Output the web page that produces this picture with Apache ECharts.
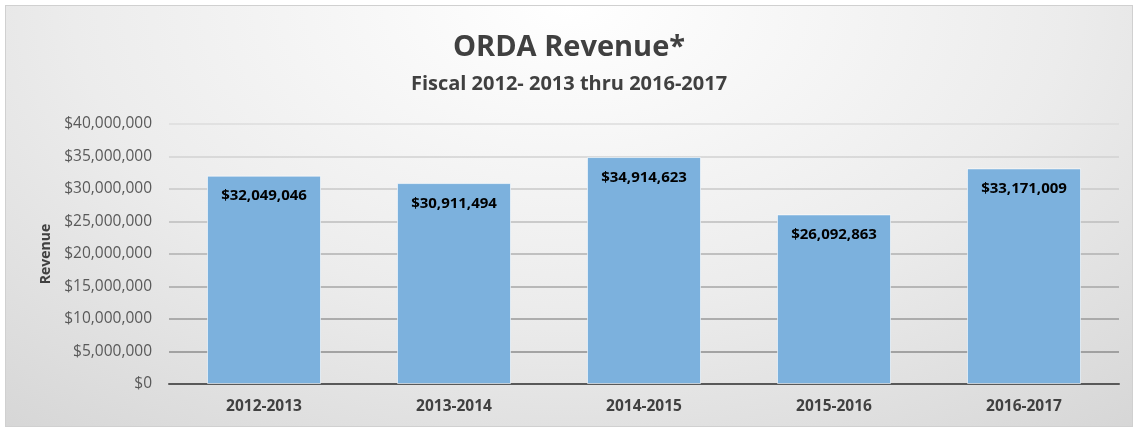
<!DOCTYPE html>
<html>
<head>
<meta charset="utf-8">
<script src="https://cdn.jsdelivr.net/npm/echarts@6/dist/echarts.min.js"></script>
<style>
  html, body { margin: 0; padding: 0; background: #fff; }
  #wrap {
    position: absolute; left: 5px; top: 5px;
    width: 1126px; height: 420px;
    border: 1px solid #d0d0d0;
    background: radial-gradient(ellipse 80% 130% at 50% 0%, #ffffff 0%, #ececec 55%, #d6d6d6 100%);
  }
  #chart { width: 1126px; height: 420px; }
</style>
</head>
<body>
<div id="wrap"><div id="chart"></div></div>
<script>
// 数据
const years = ['2012-2013', '2013-2014', '2014-2015', '2015-2016', '2016-2017'];
const revenue = [32049046, 30911494, 34914623, 26092863, 33171009];
const yTicks = [0, 5000000, 10000000, 15000000, 20000000, 25000000, 30000000, 35000000, 40000000];

const font = '"Open Sans", "Liberation Sans", sans-serif';
const money = v => '$' + v.toLocaleString('en-US');

const chart = echarts.init(document.getElementById('chart'));
const option = {
  backgroundColor: 'transparent',
  title: [
    {
      text: 'ORDA Revenue*',
      left: 'center', top: 22,
      textStyle: { fontFamily: font, fontSize: 29, fontWeight: 'bold', color: '#404040' }
    },
    {
      text: 'Fiscal 2012- 2013 thru 2016-2017',
      left: 'center', top: 63,
      textStyle: { fontFamily: font, fontSize: 20, fontWeight: 'bold', color: '#404040' }
    }
  ],
  grid: { left: 163, right: 13, top: 118, bottom: 42 },
  xAxis: {
    type: 'category',
    data: years,
    axisTick: { show: false },
    axisLine: { lineStyle: { color: '#595959', width: 2 } },
    axisLabel: { fontFamily: font, fontSize: 15.5, fontWeight: 'bold', color: '#404040', margin: 15 }
  },
  yAxis: {
    type: 'value',
    min: yTicks[0], max: yTicks[yTicks.length - 1], interval: 5000000,
    name: 'Revenue',
    nameLocation: 'middle', nameRotate: 90, nameGap: 116,
    nameTextStyle: { fontFamily: font, fontSize: 14, fontWeight: 'bold', color: '#404040' },
    axisLine: { show: false },
    axisTick: { show: false },
    axisLabel: { fontFamily: font, fontSize: 15.5, color: '#595959', margin: 17, formatter: money },
    splitLine: {
      lineStyle: {
        width: 1.5,
        color: ['#595959', '#8c8c8c', '#999999', '#a6a6a6', '#b0b0b0', '#bdbdbd', '#c8c8c8', '#d2d2d2', '#dcdcdc']
      }
    }
  },
  series: [{
    type: 'bar',
    data: revenue,
    barWidth: '60%',
    itemStyle: { color: '#7cb1dd', borderColor: 'rgba(255,255,255,0.6)', borderWidth: 1 },
    label: {
      show: true, position: 'insideTop', distance: 13,
      fontFamily: font, fontSize: 15, fontWeight: 'bold', color: '#000',
      formatter: p => money(p.value)
    }
  }]
};
chart.setOption(option);
</script>
</body>
</html>
